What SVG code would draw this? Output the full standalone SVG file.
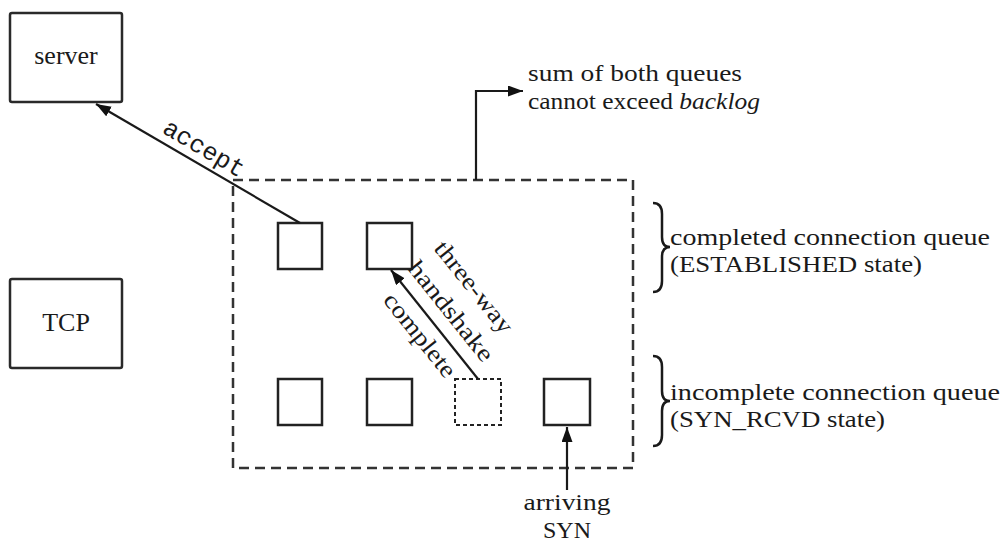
<svg xmlns="http://www.w3.org/2000/svg" width="1007" height="544" viewBox="0 0 1007 544">
<style>
.box{fill:#fff;stroke:#2a2a2a;stroke-width:2.5}
.slot{fill:#fff;stroke:#222;stroke-width:2.5}
.dslot{fill:#fff;stroke:#222;stroke-width:2;stroke-dasharray:4 3}
.cont{fill:none;stroke:#333;stroke-width:2.5;stroke-dasharray:10 6}
.t{font-family:"Liberation Serif","Times New Roman",serif;font-size:24px;fill:#1a1a1a}
.b{font-size:26px}
.m{font-family:"Liberation Mono","Courier New",monospace;font-size:25px;fill:#1a1a1a}
.c{text-anchor:middle}
.ln{fill:none;stroke:#1a1a1a;stroke-width:2.2}
.br{fill:none;stroke:#1a1a1a;stroke-width:2.5}
</style>
<defs>
<marker id="ah" markerUnits="userSpaceOnUse" markerWidth="16" markerHeight="12" refX="15" refY="5.5" orient="auto">
<path d="M0,0 L15,5.5 L0,11 z" fill="#111"/>
</marker>
</defs>
<rect width="1007" height="544" fill="#fff"/>
<g id="server"><rect class="box" x="10" y="13" width="112" height="89" rx="2"/><text class="t b c" x="66" y="64">server</text></g>
<g id="tcp"><rect class="box" x="10" y="279" width="112" height="89" rx="2"/><text class="t b c" x="66" y="331">TCP</text></g>
<g id="queues"><rect class="cont" x="233" y="180" width="400" height="288"/></g>
<g id="c1"><rect class="slot" x="278" y="223" width="44" height="46"/></g>
<g id="c2"><rect class="slot" x="367" y="223" width="45" height="46"/></g>
<g id="i1"><rect class="slot" x="278" y="379" width="44" height="46"/></g>
<g id="i2"><rect class="slot" x="367" y="379" width="45" height="46"/></g>
<g id="i3"><rect class="dslot" x="455" y="379" width="46" height="46"/></g>
<g id="i4"><rect class="slot" x="544" y="379" width="46" height="46"/></g>
<g id="completed-label">
<path class="br" d="M653,203 Q662,203 662,214 L662,237 Q662,247 670,247 Q662,247 662,257 L662,281 Q662,292 653,292"/>
<text class="t" x="670" y="245" textLength="320" lengthAdjust="spacingAndGlyphs">completed connection queue</text>
<text class="t" x="670" y="272" textLength="252" lengthAdjust="spacingAndGlyphs">(ESTABLISHED state)</text>
</g>
<g id="incomplete-label">
<path class="br" d="M653,356 Q662,356 662,367 L662,391 Q662,401 670,401 Q662,401 662,411 L662,435 Q662,446 653,446"/>
<text class="t" x="670" y="400" textLength="330" lengthAdjust="spacingAndGlyphs">incomplete connection queue</text>
<text class="t" x="670" y="427" textLength="215" lengthAdjust="spacingAndGlyphs">(SYN_RCVD state)</text>
</g>
<g id="backlog-note">
<text class="t" x="528" y="81" textLength="214" lengthAdjust="spacingAndGlyphs">sum of both queues</text>
<text class="t" x="528" y="109" textLength="232" lengthAdjust="spacingAndGlyphs">cannot exceed <tspan font-style="italic">backlog</tspan></text>
</g>
<g id="syn-label">
<text class="t c" x="567" y="510" textLength="87" lengthAdjust="spacingAndGlyphs">arriving</text>
<text class="t c" x="567" y="538">SYN</text>
</g>
<g id="connectors">
<path class="ln" d="M300,223 L96,104" marker-end="url(#ah)"/>
<text class="m c" transform="translate(200,155) rotate(30.3)">accept</text>
<path class="ln" d="M478,379 L391,270" marker-end="url(#ah)"/>
<g transform="translate(474,287) rotate(51.3)"><text class="t c" y="8" textLength="111" lengthAdjust="spacingAndGlyphs">three-way</text></g>
<g transform="translate(451,311) rotate(51.3)"><text class="t c" y="8" textLength="122" lengthAdjust="spacingAndGlyphs">handshake</text></g>
<g transform="translate(420,335) rotate(51.3)"><text class="t c" y="8" textLength="101" lengthAdjust="spacingAndGlyphs">complete</text></g>
<path class="ln" d="M476,180 L476,91 L523,91" marker-end="url(#ah)"/>
<path class="ln" d="M567,490 L567,427" marker-end="url(#ah)"/>
</g>
</svg>
